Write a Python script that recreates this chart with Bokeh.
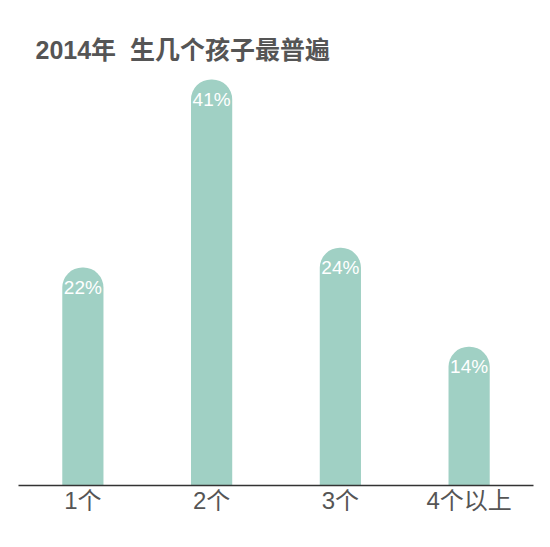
from bokeh.plotting import figure
from bokeh.models import ColumnDataSource, Range1d
from bokeh.core.properties import value
from bokeh.embed import file_html
from bokeh.resources import INLINE

# Data
categories = ["1个", "2个", "3个", "4个以上"]
shares = [22, 41, 24, 14]
labels = ["22%", "41%", "24%", "14%"]

BAR_COLOR = "#a0d0c4"
TEXT_GRAY = "#555555"
FONT = "'Liberation Sans', 'Noto Sans CJK SC', sans-serif"

src = ColumnDataSource(dict(cat=categories, v=shares, lab=labels))

p = figure(
    width=550, height=547,
    x_range=categories, y_range=Range1d(0, 42.0),
    output_backend="svg", toolbar_location=None,
    title="2014年\u00a0\u00a0生几个孩子最普遍",
    min_border_left=18, min_border_right=17, min_border_bottom=62,
    min_border_top=69,
)
p.title.text_font = FONT
p.title.text_font_size = "25px"
p.title.text_font_style = "bold"
p.title.text_color = TEXT_GRAY
p.title.offset = 17
p.title.standoff = 12

# rounded-top bars
p.vbar(x="cat", top="v", bottom=0, width=0.32, source=src,
       fill_color=BAR_COLOR, line_color=None,
       border_radius=(20, 20, 0, 0))

# value labels inside the bar caps
p.text(x="cat", y="v", text="lab", source=src,
       text_color="white", text_font=value(FONT), text_font_size="19px",
       text_align="center", text_baseline="middle", y_offset=20)

p.yaxis.visible = False
p.xgrid.visible = False
p.ygrid.visible = False
p.outline_line_color = None
p.xaxis.axis_line_color = "#333333"
p.xaxis.axis_line_width = 1.5
p.xaxis.major_tick_line_color = None
p.xaxis.minor_tick_line_color = None
p.xaxis.major_label_text_font = FONT
p.xaxis.major_label_text_font_size = "24px"
p.xaxis.major_label_text_color = TEXT_GRAY
p.xaxis.major_label_standoff = -5
p.x_range.range_padding = 0

open("out.html", "w").write(file_html(p, INLINE))
